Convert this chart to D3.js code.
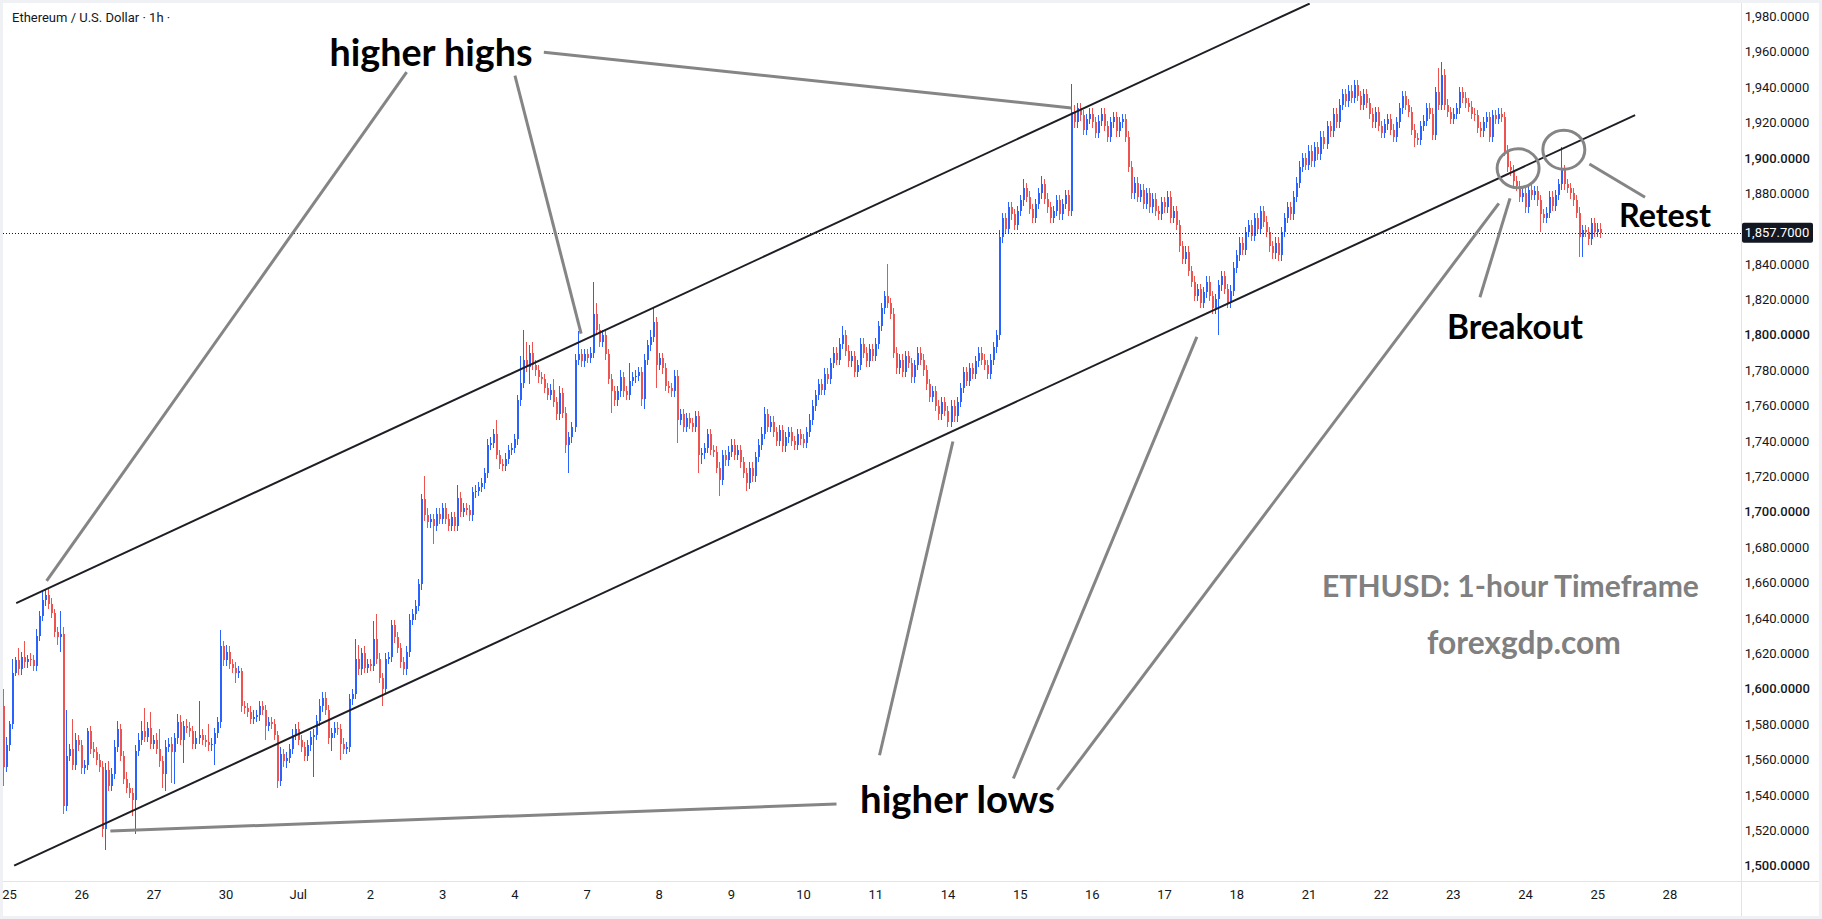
<!DOCTYPE html>
<html>
<head>
<meta charset="utf-8">
<script src="https://cdn.jsdelivr.net/npm/d3@7/dist/d3.min.js"></script>
<style>
  html, body { margin: 0; padding: 0; background: #fff; }
  svg { display: block; }
</style>
</head>
<body>
<script>
// ETH/USD hourly candles, one close per hour.
// Open of each candle = previous close. First row = last 2 hours of Jun 24.
var firstOpen = 1590;
var closes = [
  1556,1568,
  1580,1609,1616,1611,1618,1615,1617,1616,1613,1630,1641,1650,1653,1648,1643,1632,1629,1631,1534,1562,1566,1557,1571,1568,
  1555,1557,1576,1566,1564,1560,1556,1521,1554,1545,1552,1567,1577,1562,1549,1544,1541,1537,1565,1571,1576,1573,1578,1569,
  1571,1566,1559,1552,1567,1569,1564,1572,1581,1571,1579,1578,1576,1569,1572,1574,1571,1570,1568,1569,1575,1581,1624,1616,
  1621,1614,1612,1609,1610,1590,1589,1587,1583,1584,1585,1590,1588,1579,1581,1580,1574,1548,1563,1559,1561,1566,1574,1577,
  1571,1567,1562,1568,1573,1574,1582,1590,1595,1588,1572,1575,1578,1577,1569,1566,1567,1594,1597,1617,1611,1620,1612,1614,
  1613,1628,1617,1606,1600,1617,1618,1636,1629,1623,1615,1611,1621,1639,1642,1647,1659,1707,1698,1694,1696,1692,1699,1696,
  1702,1696,1692,1697,1692,1708,1700,1702,1701,1698,1711,1712,1714,1716,1722,1738,1739,1744,1732,1727,1726,1730,1735,1736,
  1741,1763,1773,1786,1782,1790,1783,1780,1776,1775,1770,1766,1769,1762,1755,1767,1756,1738,1742,1748,1786,1789,1785,1789,
  1787,1790,1812,1803,1796,1800,1789,1775,1768,1763,1768,1776,1768,1766,1774,1776,1777,1779,1764,1786,1794,1799,1807,1783,
  1787,1781,1771,1770,1768,1777,1752,1755,1748,1753,1750,1748,1754,1732,1733,1736,1744,1735,1734,1725,1718,1732,1729,1734,
  1738,1732,1735,1728,1722,1716,1725,1720,1731,1738,1744,1755,1748,1751,1745,1740,1746,1737,1742,1745,1740,1738,1744,1741,
  1739,1745,1752,1760,1766,1772,1769,1778,1775,1784,1790,1786,1795,1800,1791,1785,1788,1779,1783,1795,1790,1785,1792,1788,
  1795,1805,1815,1822,1818,1812,1790,1781,1786,1779,1788,1784,1776,1783,1790,1786,1780,1772,1765,1768,1760,1755,1762,1757,
  1751,1760,1754,1762,1770,1779,1774,1781,1778,1785,1790,1786,1783,1778,1786,1793,1800,1855,1866,1860,1872,1868,1862,1870,
  1876,1883,1878,1871,1866,1874,1880,1885,1877,1872,1866,1870,1876,1868,1874,1879,1870,1926,1920,1928,1924,1916,1922,1925,
  1920,1914,1921,1925,1918,1912,1920,1923,1915,1920,1922,1912,1895,1880,1886,1878,1882,1874,1880,1872,1877,1870,1868,1875,
  1872,1878,1866,1870,1862,1850,1843,1847,1836,1830,1822,1826,1818,1824,1830,1822,1815,1820,1828,1833,1826,1818,1825,1838,
  1845,1852,1848,1858,1862,1856,1866,1860,1870,1864,1858,1850,1846,1852,1845,1858,1866,1872,1868,1878,1886,1895,1900,1896,
  1904,1898,1906,1902,1912,1908,1918,1915,1925,1920,1930,1936,1932,1938,1934,1941,1935,1930,1936,1931,1925,1920,1926,1918,
  1914,1919,1922,1916,1912,1920,1928,1935,1930,1926,1916,1911,1910,1918,1921,1928,1925,1913,1937,1930,1947,1930,1926,1922,
  1925,1928,1937,1934,1931,1929,1925,1924,1917,1915,1920,1923,1912,1924,1922,1925,1923,1904,1895,1893,1887,1884,1878,1880,
  1872,1882,1879,1881,1876,1868,1866,1869,1878,1873,1879,1885,1893,1885,1883,1880,1876,1869,1855,1859,1858,1854,1863,1858,
  1860,1857.7
];
// upper wick above max(open, close), in dollars
var wickUp = [
  10,5,
  2,8,2,7,3,9,2,3,3,4,3,6,3,4,3,2,3,13,4,26,3,17,4,3,
  3,3,2,3,4,3,3,3,4,5,3,4,5,3,3,4,3,3,3,4,6,13,3,9,
  3,4,11,3,4,3,4,3,5,4,3,4,3,3,4,19,3,3,10,3,3,3,9,3,
  4,3,3,3,3,2,3,3,3,4,3,3,3,3,3,3,3,2,4,3,3,3,3,3,
  4,3,3,3,3,3,3,4,3,3,3,3,3,3,3,3,3,3,3,11,8,3,4,3,
  3,10,14,3,3,3,3,3,3,3,3,3,3,3,3,3,3,3,13,4,3,3,3,3,
  3,3,3,3,3,7,3,3,3,3,3,3,3,3,3,3,3,3,8,3,3,3,3,3,
  3,3,15,17,10,4,6,3,3,3,3,3,3,6,3,4,3,3,3,3,3,13,3,3,
  3,3,18,6,3,3,3,3,3,3,3,4,3,3,10,3,3,3,3,3,3,4,9,3,
  3,3,3,3,3,3,3,3,3,3,3,3,3,3,3,3,3,3,3,3,3,3,3,3,
  3,3,3,3,3,3,3,3,3,3,4,4,3,3,3,3,3,3,3,3,3,3,3,3,
  3,3,3,3,3,3,3,3,3,3,3,3,3,5,3,3,3,3,3,3,3,3,3,3,
  3,3,3,3,18,3,3,3,3,3,3,3,3,3,3,3,3,3,3,3,3,3,3,3,
  3,3,3,3,3,3,3,3,3,3,3,3,3,3,3,3,3,4,3,3,3,3,3,3,
  3,5,3,3,3,3,3,5,3,3,3,3,3,3,3,3,3,16,4,3,3,3,3,3,
  3,3,3,3,3,3,3,3,3,3,3,3,3,3,3,3,3,3,3,3,3,3,3,3,
  3,3,3,3,3,3,3,3,3,3,3,3,3,3,3,3,3,3,3,3,3,3,3,3,
  3,3,3,3,3,3,3,3,3,3,3,3,3,3,3,3,3,3,3,3,3,3,3,3,
  3,3,3,3,3,3,3,3,3,3,3,3,3,3,3,3,3,3,3,3,3,3,3,3,
  3,3,3,3,3,3,3,3,3,3,3,3,3,3,3,3,3,3,3,14,7,3,3,3,
  3,3,3,3,3,3,3,3,3,3,3,3,3,3,3,3,3,3,3,3,3,3,3,3,
  3,3,3,3,3,3,3,3,3,3,3,3,13,3,3,3,3,3,3,3,3,3,3,3,
  3,3
];
// lower wick below min(open, close), in dollars
var wickDown = [
  11,3,
  3,3,2,3,3,3,3,3,3,3,3,3,3,3,3,3,4,8,5,3,3,3,3,3,
  3,3,3,3,3,3,3,5,12,3,3,3,3,3,3,3,3,9,19,3,3,3,3,3,
  3,3,3,8,10,3,17,18,3,3,13,3,3,3,3,3,3,3,3,3,12,3,3,3,
  3,3,3,6,3,3,3,3,3,3,3,3,3,8,3,3,3,4,3,3,4,3,3,3,
  3,3,3,3,3,23,3,3,3,3,3,7,3,3,9,3,3,3,3,3,3,3,3,3,
  3,3,3,3,10,3,3,3,3,3,3,3,3,3,3,3,3,3,3,3,3,10,3,3,
  3,3,3,3,3,3,3,3,3,3,3,3,3,3,3,3,3,3,2,3,3,3,3,3,
  3,3,3,3,3,10,3,3,3,3,3,3,3,3,3,3,3,5,16,3,3,3,3,3,
  3,3,3,3,3,3,3,3,12,3,3,3,3,3,3,3,3,3,4,6,3,3,3,13,
  3,3,3,3,3,3,13,3,3,3,3,3,3,10,5,3,3,3,3,3,9,3,3,3,
  3,3,3,3,3,4,3,3,3,3,3,3,3,3,3,3,3,3,3,3,3,3,3,3,
  3,3,3,3,3,3,3,3,3,3,3,3,3,3,3,3,3,3,3,3,3,3,3,3,
  3,3,3,3,3,3,3,3,3,3,3,3,3,3,3,3,3,3,3,3,3,3,3,3,
  3,3,3,3,3,3,3,3,3,3,3,3,3,3,3,3,3,3,3,3,3,3,3,3,
  3,3,3,3,3,3,3,3,3,3,3,3,3,3,3,3,3,3,3,3,3,3,3,3,
  3,3,3,3,3,3,3,3,3,3,3,3,3,3,3,3,3,3,3,3,3,3,3,3,
  3,3,3,3,3,3,3,3,3,3,3,3,3,3,3,3,3,3,20,3,3,3,3,3,
  3,3,3,3,3,3,3,3,3,3,3,3,3,3,3,3,3,3,3,3,3,3,3,3,
  3,3,3,3,3,3,3,3,3,3,3,3,3,3,3,3,3,3,3,3,3,3,3,3,
  3,3,3,3,3,3,3,3,3,3,3,5,3,3,3,3,3,3,3,3,3,3,3,3,
  3,3,3,3,3,3,3,3,3,3,3,3,3,3,3,3,3,3,3,3,3,3,3,3,
  3,3,3,3,3,10,3,3,3,3,3,3,3,3,3,3,3,3,11,11,3,3,3,3,
  3,3
];

// time axis: first candle of each day (index 2 = Jun 25 00:00)
var dayLabels = ["25","26","27","30","Jul","2","3","4","7","8","9","10","11","14","15","16","17","18","21","22","23","24","25","28"];
var dayIndex = [2,26,50,74,98,122,146,170,194,218,242,266,290,314,338,362,386,410,434,458,482,506,530,554];
// 1,860 sits under the last-price tag, so it is not listed
var priceTicks = [1500,1520,1540,1560,1580,1600,1620,1640,1660,1680,1700,1720,1740,1760,1780,1800,1820,1840,1880,1900,1920,1940,1960,1980];
var lastPrice = 1857.7;

// channel lines and annotation pointers, as [index, price] pairs
var upperChannel = [[4.4, 1648.4], [434.4, 1987.2]];
var lowerChannel = [[3.7, 1500.0], [542.6, 1924.2]];
var pointers = [
  [[134.2, 1948.5], [14.5, 1660.9]],
  [[170.2, 1946.5], [192.2, 1800.7]],
  [[179.8, 1959.7], [355.2, 1928.2]],
  [[277.1, 1534.9], [35.7, 1519.6]],
  [[291.4, 1562.4], [315.8, 1739.7]],
  [[335.9, 1549.3], [396.9, 1798.8]],
  [[350.5, 1542.8], [497.3, 1874.3]],
  [[491.0, 1821.2], [501.0, 1877.1]],
  [[527.4, 1896.5], [545.9, 1877.7]]
];
var rings = [[503.7, 1894.1], [518.9, 1904.6]];

var svgWidth = 1822, svgHeight = 919;
var plot = { left: 3, top: 3, right: 1741, bottom: 881 };

var svg = d3.select("body").append("svg")
    .attr("width", svgWidth)
    .attr("height", svgHeight);

// light outer frame
svg.append("rect")
    .attr("x", 1.5).attr("y", 1.5)
    .attr("width", svgWidth - 3).attr("height", svgHeight - 3)
    .attr("fill", "#fff")
    .attr("stroke", "#eff1f4")
    .attr("stroke-width", 3);

var xScale = d3.scaleLinear().domain([2, 530]).range([9, 9 + 528 * 3.008]);
var yScale = d3.scaleLinear().domain([1500, 1980]).range([865.7, 16.3]);

svg.append("clipPath").attr("id", "plotClip")
  .append("rect")
    .attr("x", plot.left).attr("y", plot.top)
    .attr("width", plot.right - plot.left).attr("height", plot.bottom - plot.top);

// axis separators
svg.append("line")
    .attr("x1", plot.right + 0.5).attr("x2", plot.right + 0.5)
    .attr("y1", 3).attr("y2", svgHeight - 3)
    .attr("stroke", "#e0e3eb");
svg.append("line")
    .attr("x1", 3).attr("x2", svgWidth - 3)
    .attr("y1", plot.bottom + 0.5).attr("y2", plot.bottom + 0.5)
    .attr("stroke", "#e0e3eb");

var chart = svg.append("g").attr("clip-path", "url(#plotClip)");

// candles
var candles = closes.map(function(c, i) {
  var o = i === 0 ? firstOpen : closes[i - 1];
  return {
    i: i, o: o, c: c,
    h: Math.max(o, c) + wickUp[i],
    l: Math.min(o, c) - wickDown[i]
  };
});
var upColor = "#2962ff", downColor = "#ef5350";

var candleG = chart.append("g").attr("shape-rendering", "crispEdges");
candleG.selectAll("line.wick")
  .data(candles)
  .enter().append("line")
    .attr("class", "wick")
    .attr("x1", d => Math.round(xScale(d.i)) + 0.5)
    .attr("x2", d => Math.round(xScale(d.i)) + 0.5)
    .attr("y1", d => yScale(d.h))
    .attr("y2", d => yScale(d.l))
    .attr("stroke", d => d.c >= d.o ? upColor : downColor)
    .attr("stroke-width", 1);
candleG.selectAll("rect.body")
  .data(candles)
  .enter().append("rect")
    .attr("class", "body")
    .attr("x", d => Math.round(xScale(d.i)))
    .attr("width", 2)
    .attr("y", d => yScale(Math.max(d.o, d.c)))
    .attr("height", d => Math.max(1.5, Math.abs(yScale(d.o) - yScale(d.c))))
    .attr("fill", d => d.c >= d.o ? upColor : downColor);

// last price dotted line
chart.append("line")
    .attr("x1", plot.left).attr("x2", plot.right)
    .attr("y1", Math.round(yScale(lastPrice)) + 0.5)
    .attr("y2", Math.round(yScale(lastPrice)) + 0.5)
    .attr("stroke", "#131722")
    .attr("stroke-dasharray", "1,2");

// channel
var line = d3.line().x(d => xScale(d[0])).y(d => yScale(d[1]));
[upperChannel, lowerChannel].forEach(function(seg) {
  chart.append("path")
      .attr("d", line(seg))
      .attr("fill", "none")
      .attr("stroke", "#1e1f24")
      .attr("stroke-width", 2);
});

// grey pointers and rings
pointers.forEach(function(seg) {
  chart.append("path")
      .attr("d", line(seg))
      .attr("fill", "none")
      .attr("stroke", "#858585")
      .attr("stroke-width", 3);
});
chart.selectAll("ellipse.ring")
  .data(rings)
  .enter().append("ellipse")
    .attr("class", "ring")
    .attr("cx", d => xScale(d[0]))
    .attr("cy", d => yScale(d[1]))
    .attr("rx", 21)
    .attr("ry", 19.5)
    .attr("fill", "none")
    .attr("stroke", "#858585")
    .attr("stroke-width", 3);

// annotation texts
function fitWidth(t, w) {
  var len = t.node().getComputedTextLength();
  var fs = parseFloat(t.attr("font-size"));
  t.attr("font-size", (fs * w / len).toFixed(2));
}
var notes = [
  { text: "higher highs", x: 431, y: 66, w: 203, color: "#000" },
  { text: "higher lows", x: 957.5, y: 813, w: 195, color: "#000" },
  { text: "Breakout", x: 1515, y: 339, w: 136, color: "#000" },
  { text: "Retest", x: 1665, y: 227, w: 92, color: "#000" },
  { text: "ETHUSD: 1-hour Timeframe", x: 1510.5, y: 597, w: 377, color: "#808080" },
  { text: "forexgdp.com", x: 1524, y: 654, w: 194, color: "#808080" }
];
notes.forEach(function(n) {
  var t = svg.append("text")
      .attr("x", n.x).attr("y", n.y)
      .attr("text-anchor", "middle")
      .attr("font-family", "Lato, 'Open Sans', sans-serif")
      .attr("font-weight", 700)
      .attr("font-size", 30)
      .attr("fill", n.color)
      .text(n.text);
  fitWidth(t, n.w);
});

// title
svg.append("text")
    .attr("x", 12).attr("y", 22)
    .attr("font-family", "Roboto, 'DejaVu Sans', sans-serif")
    .attr("font-size", 13)
    .attr("fill", "#131722")
    .text("Ethereum / U.S. Dollar \u00b7 1h \u00b7");

// price axis
var rightAxis = d3.axisRight(yScale)
    .tickValues(priceTicks)
    .tickFormat(d3.format(",.4f"))
    .tickSize(0)
    .tickPadding(0);
var rAxis = svg.append("g")
    .attr("transform", "translate(1777,0)")
    .call(rightAxis);
rAxis.select(".domain").remove();
rAxis.selectAll("text")
    .attr("text-anchor", "middle")
    .attr("font-family", "Roboto, 'DejaVu Sans', sans-serif")
    .attr("font-size", 13)
    .attr("font-weight", d => d % 100 === 0 ? 500 : 400)
    .attr("fill", "#131722");

// last price tag
var tagY = yScale(lastPrice);
svg.append("rect")
    .attr("x", 1742).attr("y", tagY - 10)
    .attr("width", 71).attr("height", 20)
    .attr("rx", 2)
    .attr("fill", "#131722");
svg.append("text")
    .attr("x", 1777).attr("y", tagY)
    .attr("dy", "0.35em")
    .attr("text-anchor", "middle")
    .attr("font-family", "Roboto, 'DejaVu Sans', sans-serif")
    .attr("font-size", 13)
    .attr("fill", "#fff")
    .text(d3.format(",.4f")(lastPrice));

// time axis
var bottomAxis = d3.axisBottom(xScale)
    .tickValues(dayIndex)
    .tickFormat((d, k) => dayLabels[k])
    .tickSize(0)
    .tickPadding(0);
var bAxis = svg.append("g")
    .attr("transform", "translate(0,890)")
    .call(bottomAxis);
bAxis.select(".domain").remove();
bAxis.selectAll("text")
    .attr("font-family", "Roboto, 'DejaVu Sans', sans-serif")
    .attr("font-size", 13)
    .attr("fill", "#131722");
</script>
</body>
</html>
